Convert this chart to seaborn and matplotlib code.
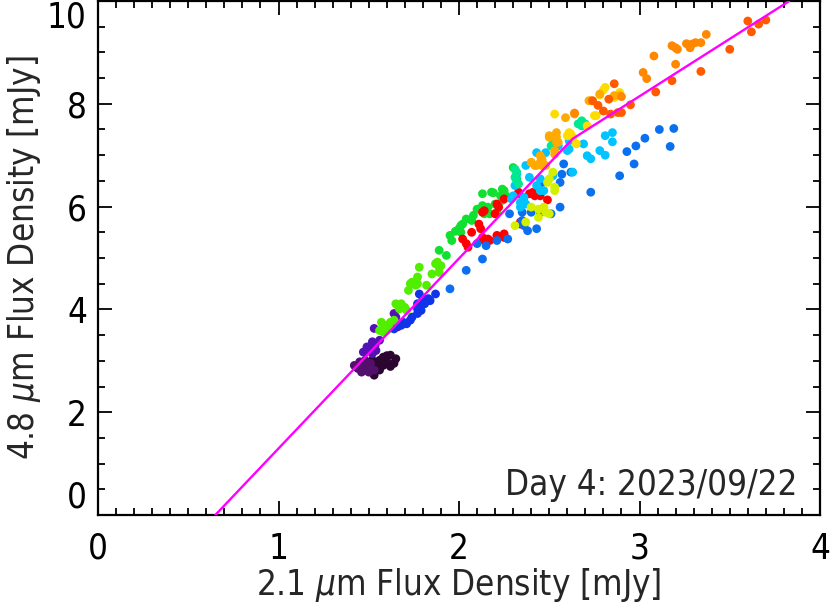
import numpy as np
import pandas as pd
import seaborn as sns
from matplotlib import pyplot as plt
from matplotlib.ticker import MultipleLocator

sns.set_style('ticks')
plt.rcParams['font.family'] = ['DejaVu Sans']
plt.rcParams['font.stretch'] = 'condensed'
plt.rcParams['mathtext.fontset'] = 'dejavusans'

# flux pairs, grouped by colour (time order of the light curve)
dark_x = [1.62, 1.58, 1.56, 1.60, 1.65, 1.62, 1.58, 1.54, 1.53, 1.56, 1.535, 1.52, 1.60, 1.64]
dark_y = [3.11, 3.07, 3.01, 2.98, 3.04, 2.89, 2.91, 2.88, 2.72, 2.82, 2.91, 3.01, 3.10, 2.95]
purple_x = [1.42, 1.45, 1.47, 1.49, 1.46, 1.50, 1.44, 1.48, 1.51, 1.53, 1.43, 1.47]
purple_y = [2.91, 2.98, 2.85, 2.91, 2.78, 2.78, 2.85, 3.01, 2.95, 2.82, 2.88, 2.93]
violet_x = [1.52, 1.53, 1.50, 1.47, 1.54, 1.49, 1.535, 1.52, 1.53, 1.64, 1.65, 1.63, 1.66, 1.56]
violet_y = [3.37, 3.27, 3.20, 3.17, 3.20, 3.27, 3.30, 3.14, 3.63, 3.92, 3.85, 3.75, 3.66, 3.40]
blue_x = [1.78, 1.80, 1.83, 1.77, 1.81, 1.79, 1.77, 1.74, 1.73, 1.69, 1.68, 1.87, 1.84, 1.77, 1.71, 1.64]
blue_y = [4.30, 4.21, 4.21, 4.11, 4.11, 3.98, 3.92, 3.85, 3.79, 3.75, 3.69, 4.30, 4.17, 4.01, 3.72, 3.62]
lime_x = [1.57, 1.59, 1.56, 1.60, 1.62, 1.64, 1.61, 1.58, 1.65, 1.66, 1.68, 1.67, 1.70, 1.71,
          1.72, 1.73, 1.74, 1.76, 1.77, 1.78, 1.77, 1.82, 1.85, 1.87, 1.89, 1.90, 1.89, 1.88]
lime_y = [3.75, 3.69, 3.59, 3.59, 3.75, 3.79, 3.66, 3.56, 4.11, 4.08, 4.11, 4.01, 4.04, 3.98,
          4.37, 4.50, 4.53, 4.47, 4.63, 4.82, 4.50, 4.47, 4.69, 4.89, 4.82, 4.85, 4.72, 4.92]
green_x = [1.89, 2.13, 2.18, 2.24, 2.25, 2.23, 2.26, 2.24, 2.20, 2.16, 2.13, 2.14, 2.08, 2.07,
           2.04, 2.02, 2.01, 2.00, 2.01, 1.95, 1.96, 2.17, 2.21, 2.19, 1.98, 2.10, 1.93, 2.30, 2.32]
green_y = [5.15, 6.25, 6.28, 6.34, 6.31, 6.21, 6.21, 6.12, 6.05, 5.99, 6.02, 5.86, 5.83, 5.73,
           5.76, 5.66, 5.63, 5.57, 5.50, 5.44, 5.34, 5.86, 5.89, 6.27, 5.52, 5.95, 5.05, 6.76, 6.54]
red_x = [2.13, 2.14, 2.21, 2.22, 2.20, 2.11, 2.12, 2.07, 2.02, 2.04, 2.05, 2.13, 2.14, 2.16, 2.17,
         2.21, 2.25, 2.33, 2.34, 2.33, 2.36, 2.39, 2.41, 2.42, 2.45, 2.49, 2.25, 2.34, 2.25, 2.45]
red_y = [5.89, 5.92, 6.05, 5.99, 5.86, 5.66, 5.57, 5.50, 5.37, 5.28, 5.21, 5.40, 5.34, 5.37, 5.34,
         5.44, 5.47, 6.25, 5.66, 6.28, 6.18, 6.25, 6.28, 6.21, 6.21, 6.13, 6.15, 5.70, 5.40, 5.89]
azure_x = [1.95, 2.04, 2.13, 2.10, 2.15, 2.21, 2.27, 2.28, 2.35, 2.38, 2.43, 2.51, 2.40, 2.36, 2.56,
           2.73, 2.57, 2.62, 2.56, 2.58, 2.46, 2.89, 2.97, 2.93, 2.98, 3.03, 3.11, 3.19, 3.17, 2.35]
azure_y = [4.40, 4.76, 4.98, 5.28, 5.24, 5.34, 5.37, 5.86, 5.89, 5.53, 5.57, 5.86, 5.89, 5.63, 5.99,
           6.28, 6.63, 6.67, 6.47, 6.83, 6.47, 6.60, 6.83, 7.07, 7.18, 7.33, 7.50, 7.52, 7.17, 5.73]
cyan_x = [2.37, 2.43, 2.48, 2.55, 2.61, 2.30, 2.47, 2.45, 2.45, 2.43, 2.52, 2.32, 2.31, 2.29, 2.34,
          2.37, 2.36, 2.81, 2.85, 2.85, 2.78, 2.81, 2.69, 2.71, 2.73, 2.63, 2.61, 2.60, 2.39, 2.34]
cyan_y = [6.80, 7.05, 7.05, 7.18, 7.12, 6.21, 6.31, 6.31, 6.54, 6.41, 6.60, 6.63, 6.41, 6.15, 6.08,
          6.05, 6.18, 7.38, 7.44, 7.26, 7.09, 7.00, 7.22, 6.99, 6.93, 6.67, 7.28, 7.09, 6.57, 5.99]
teal_x = [2.31, 2.31, 2.51, 2.66, 2.68, 2.52, 2.68, 2.70, 2.32, 2.33, 2.32]
teal_y = [6.73, 6.57, 7.18, 7.61, 7.57, 7.22, 7.67, 7.61, 6.50, 6.44, 6.67]
ygreen_x = [2.50, 2.49, 2.52, 2.53, 2.40, 2.44, 2.47, 2.48, 2.44, 2.31, 2.37, 2.53, 2.50]
ygreen_y = [6.54, 6.47, 6.67, 6.38, 5.99, 5.95, 5.99, 5.89, 5.79, 5.63, 5.70, 6.31, 5.86]
yellow_x = [2.61, 2.62, 2.65, 2.53, 2.75, 2.81, 2.80, 2.86, 2.63, 2.71, 2.76, 2.78, 2.89, 2.60]
yellow_y = [7.44, 7.41, 7.22, 7.80, 7.77, 8.32, 8.27, 8.12, 7.35, 7.57, 7.77, 8.17, 8.22, 7.38]
amber_x = [2.50, 2.50, 2.54, 2.55, 2.53, 2.53, 2.46, 2.45, 2.42, 2.40, 2.46, 2.64, 2.59, 2.54, 2.54,
           2.45, 2.46, 2.43, 2.40, 2.48, 2.73, 2.78, 2.86, 2.89, 2.72]
amber_y = [7.38, 7.35, 7.35, 7.25, 7.09, 7.02, 6.93, 6.86, 6.80, 6.86, 6.80, 7.80, 7.73, 7.44, 7.25,
           6.99, 6.89, 6.80, 6.86, 6.80, 8.06, 8.19, 8.16, 8.16, 8.06]
orange_x = [3.18, 3.20, 3.21, 3.26, 3.29, 3.28, 3.31, 3.34, 3.37, 3.20, 3.02, 3.08, 2.64, 2.90, 3.04]
orange_y = [9.13, 9.09, 9.06, 9.17, 9.16, 9.09, 9.19, 9.19, 9.35, 8.77, 8.61, 8.93, 7.82, 8.14, 8.49]
redor_x = [2.74, 2.83, 2.80, 2.84, 2.88, 2.90, 2.95, 2.86, 2.77, 3.09, 3.18, 3.34, 3.50, 3.60, 3.62, 3.66, 3.70]
redor_y = [8.06, 8.09, 7.86, 7.80, 7.83, 7.83, 7.98, 8.39, 7.97, 8.23, 8.45, 8.63, 9.06, 9.61, 9.40, 9.55, 9.63]

# broken power-law fit (magenta)
fit_x = [0.65, 2.63, 3.83]
fit_y = [0.0, 7.32, 10.0]

groups = {
    'dark': (dark_x, dark_y, '#2b0630'),
    'purple': (purple_x, purple_y, '#52106c'),
    'violet': (violet_x, violet_y, '#5212b4'),
    'blue': (blue_x, blue_y, '#1034e8'),
    'lime': (lime_x, lime_y, '#52ee00'),
    'green': (green_x, green_y, '#10e030'),
    'red': (red_x, red_y, '#ff0000'),
    'azure': (azure_x, azure_y, '#0a70f0'),
    'cyan': (cyan_x, cyan_y, '#00c4ff'),
    'teal': (teal_x, teal_y, '#00e890'),
    'ygreen': (ygreen_x, ygreen_y, '#d4f000'),
    'yellow': (yellow_x, yellow_y, '#ffdc00'),
    'amber': (amber_x, amber_y, '#ffaa00'),
    'orange': (orange_x, orange_y, '#ff8800'),
    'redor': (redor_x, redor_y, '#ff5a00'),
}

rows = []
for name, (gx, gy, _) in groups.items():
    for a, b in zip(gx, gy):
        rows.append((name, a, b))
df = pd.DataFrame(rows, columns=['group', 'f21', 'f48'])
palette = {k: v[2] for k, v in groups.items()}

fig = plt.figure(figsize=(8.31, 6.04), dpi=100)
ax = fig.add_axes([98 / 831, 1 - 515 / 604, 722 / 831, 514 / 604])

sns.scatterplot(data=df, x='f21', y='f48', hue='group', palette=palette,
                s=40, linewidth=0, legend=False, ax=ax, zorder=2)
sns.lineplot(x=fit_x, y=fit_y, color='#ff00ff', lw=1.7, ax=ax, zorder=3)

ax.set_xlim(0, 4)
ax.set_ylim(0, 10)
ax.xaxis.set_major_locator(MultipleLocator(1))
ax.xaxis.set_minor_locator(MultipleLocator(0.1))
ax.yaxis.set_major_locator(MultipleLocator(2))
ax.yaxis.set_minor_locator(MultipleLocator(0.5))
ax.tick_params(which='both', direction='in', top=True, right=True, colors='black', width=1.3)
ax.tick_params(which='major', length=10, labelsize=25)
ax.tick_params(axis='x', which='major', pad=12)
ax.tick_params(axis='y', which='major', pad=8)
ax.tick_params(which='minor', length=5)
for s in ax.spines.values():
    s.set_linewidth(1.6)
    s.set_color('black')

ax.set_xlabel(r'2.1 $\mu$m Flux Density [mJy]', fontsize=25, labelpad=0)
ax.set_ylabel(r'4.8 $\mu$m Flux Density [mJy]', fontsize=25, labelpad=3)

fig.canvas.draw()
for lab in ax.get_yticklabels():
    if lab.get_text() == '10':
        lab.set_va('top')
    elif lab.get_text() == '0':
        lab.set_va('bottom')

ax.text(0.968, 0.058, 'Day 4: 2023/09/22', transform=ax.transAxes,
        ha='right', va='center', fontsize=25)

fig.savefig('out.png', dpi=100)
